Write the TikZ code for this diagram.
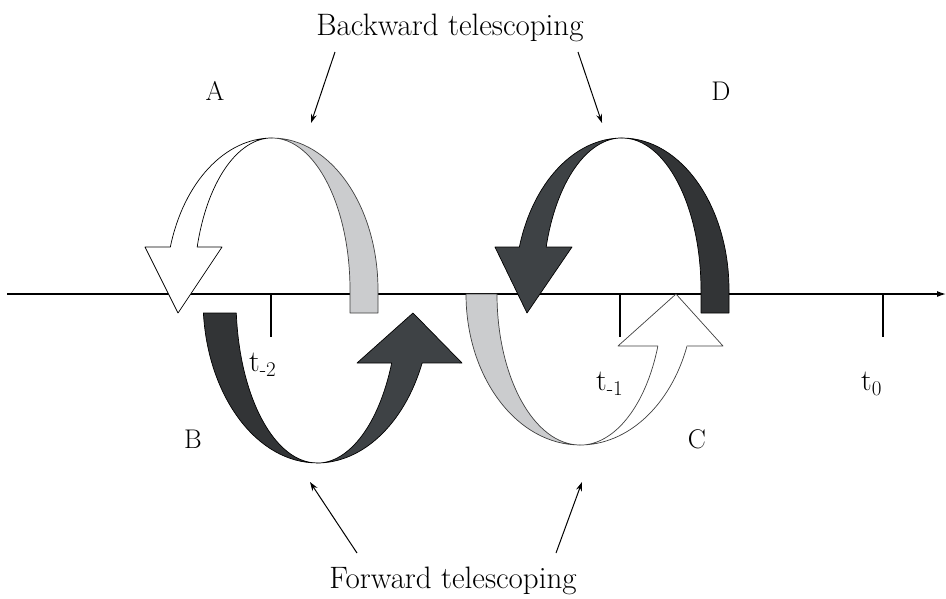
\documentclass[tikz,border=0pt]{standalone}
\usepackage{xcolor}
\usepackage{tikz}
\usetikzlibrary{arrows.meta}

\definecolor{ribbongray}{HTML}{CBCCCE}
\definecolor{ribbondark}{HTML}{323436}
\definecolor{ribbonmid}{HTML}{3E4245}
\definecolor{edgegray}{HTML}{404040}

\begin{document}
\begin{tikzpicture}[
    x=1pt, y=1pt,
    every node/.style={font=\fontsize{27}{32}\selectfont, inner sep=0pt},
    caption/.style={font=\fontsize{31}{36}\selectfont},
    timelabel/.style={anchor=base west, font=\fontsize{30}{34}\selectfont},
    ribbon/.style={draw=black, line width=0.7pt, line join=round},
    softribbon/.style={draw=edgegray, line width=0.7pt, line join=round},
    tickmark/.style={line width=1.2pt},
    pointer/.style={-{Stealth[length=9pt, width=6pt]}, line width=1pt}
]
\useasboundingbox (0,0) rectangle (946,-598);

% time axis with its ticks
\coordinate (axisL) at (7,-294);
\coordinate (axisR) at (946,-294);
\draw[line width=1.2pt, -{Latex[length=9pt, width=6pt]}] (axisL) -- (axisR);
\foreach \x in {271, 620, 883}
    \draw[tickmark] (\x,-294) -- (\x,-337);

\node[timelabel] (tmtwo) at (249,-371) {t\textsubscript{-2}};
\node[timelabel] (tmone) at (596,-390) {t\textsubscript{-1}};
\node[timelabel] (tzero) at (861,-390) {t\textsubscript{0}};

% loop A (backward, light)
\draw[softribbon, fill=ribbongray] (272,-138)
    arc[start angle=90, end angle=0, x radius=106, y radius=152]
    -- (378,-313) -- (350,-313) -- (350,-290)
    arc[start angle=0, end angle=90, x radius=78, y radius=152] -- cycle;
\draw[ribbon, fill=white] (272,-138)
    arc[start angle=90, end angle=163.6, x radius=106, y radius=152]
    -- (145,-247) -- (178,-313) -- (222,-247) -- (197.2,-247)
    arc[start angle=163.6, end angle=90, x radius=78, y radius=152] -- cycle;

% loop D (backward, dark)
\draw[ribbon, fill=ribbondark] (622,-138)
    arc[start angle=90, end angle=0, x radius=107, y radius=152]
    -- (729,-313) -- (701,-313) -- (701,-290)
    arc[start angle=0, end angle=90, x radius=79, y radius=152] -- cycle;
\draw[ribbon, fill=ribbonmid] (622,-138)
    arc[start angle=90, end angle=163.6, x radius=107, y radius=152]
    -- (495,-247) -- (527,-313) -- (572,-247) -- (546.2,-247)
    arc[start angle=163.6, end angle=90, x radius=79, y radius=152] -- cycle;

% loop B (forward, dark)
\draw[ribbon, fill=ribbondark] (203.4,-313)
    arc[start angle=184.6, end angle=270, x radius=114, y radius=163]
    arc[start angle=270, end angle=184.6, x radius=81, y radius=163] -- cycle;
\draw[ribbon, fill=ribbonmid] (317,-463)
    arc[start angle=270, end angle=337.3, x radius=114, y radius=163]
    -- (462,-363) -- (413,-313) -- (357,-363) -- (391.7,-363)
    arc[start angle=337.3, end angle=270, x radius=81, y radius=163] -- cycle;

% loop C (forward, light)
\draw[softribbon, fill=ribbongray] (466,-294)
    arc[start angle=180, end angle=270, x radius=114, y radius=151]
    arc[start angle=270, end angle=180, x radius=83, y radius=151] -- cycle;
\draw[softribbon, fill=white] (580,-445)
    arc[start angle=270, end angle=339.9, x radius=114, y radius=151]
    -- (723,-346) -- (676,-294) -- (618,-346) -- (657.9,-346)
    arc[start angle=339.9, end angle=270, x radius=83, y radius=151] -- cycle;

% loop letters
\node[anchor=base] (labA) at (215,-100) {A};
\node[anchor=base] (labD) at (721,-100) {D};
\node[anchor=base] (labB) at (193,-448) {B};
\node[anchor=base] (labC) at (697,-448) {C};

% captions and their pointers
\node[caption, anchor=base] (backcap) at (450,-35) {Backward telescoping};
\node[caption, anchor=base] (fwdcap) at (453,-588) {Forward telescoping};

\coordinate (backL) at (335,-52);
\coordinate (backLtip) at (311,-123);
\coordinate (backR) at (578,-52);
\coordinate (backRtip) at (602,-123);
\coordinate (fwdL) at (357,-553);
\coordinate (fwdLtip) at (310,-482);
\coordinate (fwdR) at (556,-553);
\coordinate (fwdRtip) at (582,-482);
\draw[pointer] (backL) -- (backLtip);
\draw[pointer] (backR) -- (backRtip);
\draw[pointer] (fwdL) -- (fwdLtip);
\draw[pointer] (fwdR) -- (fwdRtip);
\end{tikzpicture}
\end{document}
